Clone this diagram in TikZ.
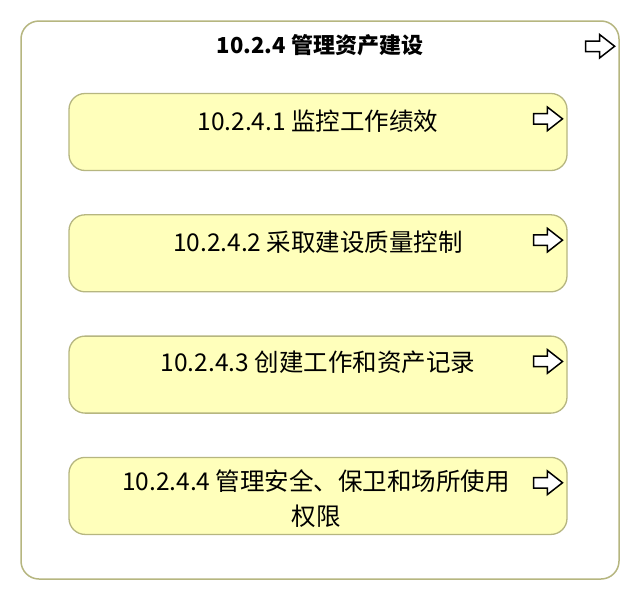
\documentclass[tikz,border=0pt]{standalone}
\usepackage{fontspec}
\setmainfont{Noto Sans CJK SC}
\usetikzlibrary{positioning,shapes.arrows}
\definecolor{boxfill}{HTML}{FFFFBB}
\definecolor{boxline}{HTML}{B6B680}
\begin{document}
\begin{tikzpicture}[x=1pt,y=-1pt]

    \tikzset{
      outerbox/.style={
        draw=boxline,
        line width=1.5pt,
        fill=white,
        rounded corners=18pt,
        minimum width=598pt,
        minimum height=558pt,
      },
      taskbox/.style={
        draw=boxline,
        line width=1.3pt,
        fill=boxfill,
        rounded corners=16pt,
        minimum width=498pt,
        minimum height=77pt,
      },
      tasklabel/.style={
        font=\fontsize{24.5}{35}\selectfont,
        align=center,
      },
      goarrow/.style={
        single arrow,
        draw=black,
        fill=white,
        line width=1.5pt,
        inner sep=4.5pt,
        minimum height=29pt,
        single arrow head extend=6.5pt,
        single arrow tip angle=76,
      },
    }
    \useasboundingbox (0,0) rectangle (640,600);
	\node[outerbox] (main) at (320,300) {};
	\node[tasklabel, font=\fontsize{22}{26}\bfseries\selectfont, anchor=center] (mainl) at ([yshift=-25pt]main.north) {10.2.4 管理资产建设};
	\node[goarrow] (maina) at ([xshift=-23pt,yshift=-26pt]main.north east) {};

	\node[taskbox] (t1) at (318,132) {};
	\node[taskbox, below=43pt of t1] (t2) {};
	\node[taskbox, below=43pt of t2] (t3) {};
	\node[taskbox, below=43pt of t3] (t4) {};

	\node[tasklabel, anchor=center] (t1l) at ([yshift=-28pt]t1.north) {10.2.4.1 监控工作绩效};
	\node[tasklabel, anchor=center] (t2l) at ([yshift=-28pt]t2.north) {10.2.4.2 采取建设质量控制};
	\node[tasklabel, anchor=center] (t3l) at ([yshift=-27pt]t3.north) {10.2.4.3 创建工作和资产记录};
	\node[tasklabel, anchor=center] (t4l) at ([xshift=-2pt,yshift=-42pt]t4.north) {10.2.4.4 管理安全、保卫和场所使用\\权限};

	\foreach \t in {t1,t2,t3,t4}
	  \node[goarrow] (\t a) at ([xshift=-23pt,yshift=-26pt]\t.north east) {};

\end{tikzpicture}
\end{document}
